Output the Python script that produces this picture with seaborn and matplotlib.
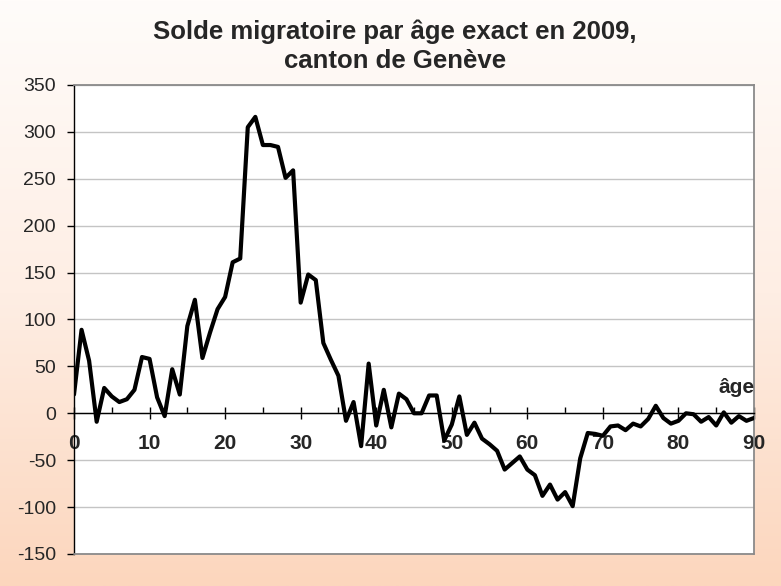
import numpy as np
import pandas as pd
import matplotlib
matplotlib.use("Agg")
import matplotlib.pyplot as plt
import seaborn as sns
from matplotlib.colors import LinearSegmentedColormap
from matplotlib.ticker import MultipleLocator

# -----------------------------
# Data
# -----------------------------
ages = list(range(0, 91))
solde = [20, 89, 56, -9, 27, 18, 12, 15, 25, 60,
         58, 17, -3, 47, 20, 93, 121, 59, 86, 111,
         124, 161, 165, 305, 316, 286, 286, 284, 251, 259,
         118, 148, 142, 75, 57, 40, -8, 12, -35, 53,
         -13, 25, -15, 21, 15, 0, 0, 19, 19, -29,
         -12, 18, -23, -10, -27, -33, -40, -60, -53, -46,
         -60, -66, -88, -76, -92, -84, -99, -48, -21, -22,
         -24, -14, -13, -18, -11, -14, -6, 8, -5, -11,
         -8, 0, -1, -9, -4, -13, 1, -10, -3, -8,
         -5]
x_ticks = [0, 10, 20, 30, 40, 50, 60, 70, 80, 90]
y_ticks = [-150, -100, -50, 0, 50, 100, 150, 200, 250, 300, 350]

df = pd.DataFrame({"age": ages, "solde": solde})

# -----------------------------
# Style
# -----------------------------
sns.set_theme(style="white")
plt.rcParams["font.family"] = ["Liberation Sans", "DejaVu Sans"]

fig = plt.figure(figsize=(7.81, 5.86), dpi=100)

# peach gradient background
bg = fig.add_axes([0, 0, 1, 1], zorder=-10)
cmap = LinearSegmentedColormap.from_list("peach", ["#FFFCFA", "#FEEEE4", "#FCD6BD"])
grad = np.linspace(0, 1, 256).reshape(-1, 1)
bg.imshow(grad, aspect="auto", cmap=cmap, extent=[0, 1, 0, 1], origin="upper")
bg.axis("off")

ax = fig.add_axes([74 / 781, 1 - 554 / 586, 680 / 781, 469 / 586])
ax.set_facecolor("white")

sns.lineplot(data=df, x="age", y="solde", ax=ax, color="black", linewidth=3, zorder=5)

ax.set_xlim(0, 90)
ax.set_ylim(-150, 350)
ax.set_xlabel("")
ax.set_ylabel("")

# axes / spines
ax.spines["bottom"].set_position(("data", 0))
ax.spines["bottom"].set_color("black")
ax.spines["bottom"].set_linewidth(1)
ax.spines["left"].set_color("black")
ax.spines["left"].set_linewidth(1)
for s in ["top", "right"]:
    ax.spines[s].set_color("#8A8A8A")
    ax.spines[s].set_linewidth(1.3)
    ax.spines[s].set_visible(True)
ax.axhline(-150, color="#8A8A8A", linewidth=1.3, clip_on=False, zorder=6)

ax.yaxis.grid(True, color="#C4C4C4", linewidth=1)
ax.xaxis.grid(False)

ax.set_yticks(y_ticks)
ax.set_yticklabels([str(v) for v in y_ticks])
ax.tick_params(axis="y", which="major", direction="out", length=5, width=1,
               color="black", pad=8, labelsize=14, left=True)

ax.set_xticks(x_ticks)
ax.set_xticklabels([str(v) for v in x_ticks], fontweight="bold")
ax.xaxis.set_minor_locator(MultipleLocator(5))
ax.tick_params(axis="x", which="major", direction="inout", length=8, width=1,
               color="black", pad=11, labelsize=15, bottom=True)
ax.tick_params(axis="x", which="minor", direction="in", length=4, width=1,
               color="black", bottom=True)

ax.text(87.7, 17, "âge", ha="center", va="bottom", fontsize=15, fontweight="bold", zorder=7)

fig.text(395 / 781, 1 - 20 / 586, "Solde migratoire par âge exact en 2009,\ncanton de Genève",
         ha="center", va="top", fontsize=18.5, fontweight="bold", linespacing=1.25)

fig.savefig("out.png", dpi=100)
plt.close(fig)
